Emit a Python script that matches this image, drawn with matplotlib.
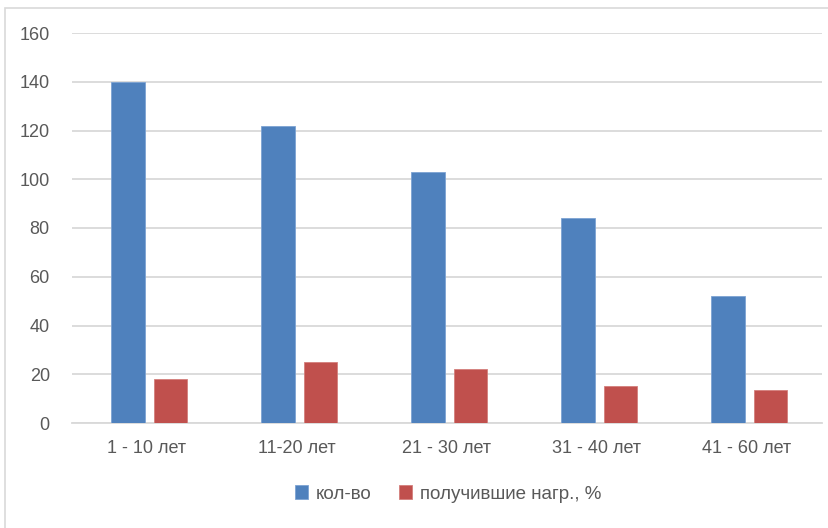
import matplotlib
matplotlib.use("Agg")
import matplotlib.pyplot as plt
import numpy as np
from matplotlib.patches import Rectangle

# age groups and the two series
categories = ["1 - 10 лет", "11-20 лет", "21 - 30 лет", "31 - 40 лет", "41 - 60 лет"]
count_values = [140, 122, 103, 84, 52]
loaded_pct = [18, 25, 22, 15, 13.5]
series_names = ["кол-во", "получившие нагр., %"]

plt.rcParams["font.family"] = ["Liberation Sans Narrow", "Liberation Sans", "DejaVu Sans"]

fig = plt.figure(figsize=(8.29, 5.28), dpi=100)
ax = fig.add_axes([72 / 829, 1 - 423 / 528, 750 / 829, 390 / 528])

x = np.arange(len(categories))
width = 0.225
ax.bar(x - 0.125, count_values, width, color="#4f81bd", edgecolor="#7da3d3",
       linewidth=0.6, label=series_names[0], zorder=3)
ax.bar(x + 0.157, loaded_pct, width, color="#c0504d", edgecolor="#d47f7c",
       linewidth=0.6, label=series_names[1], zorder=3)

ax.set_xlim(-0.5, len(categories) - 0.5)
ax.set_ylim(0, 160)
ax.set_yticks(range(0, 161, 20))
ax.set_xticks(x)
ax.set_xticklabels(categories)
ax.yaxis.grid(True, color="#d9d9d9", linewidth=1.3, zorder=0)
ax.tick_params(axis="both", length=0, labelsize=13, colors="#595959")
ax.tick_params(axis="y", pad=16)
ax.tick_params(axis="x", pad=12)
for side in ["top", "right", "left"]:
    ax.spines[side].set_visible(False)
ax.spines["bottom"].set_color("#d9d9d9")
ax.spines["bottom"].set_linewidth(1.3)

ax.legend(loc="center", bbox_to_anchor=(448 / 829, 1 - 494 / 528),
          bbox_transform=fig.transFigure, ncol=2, frameon=False,
          handlelength=0.7, handleheight=0.7, handletextpad=0.4,
          columnspacing=1.5, fontsize=13.5, labelcolor="#595959")

# chart area border (only its top and left edges fall inside the frame)
fig.patches.append(Rectangle((5 / 829, -0.1), 1.2, (1 - 8 / 528) + 0.1,
                             transform=fig.transFigure, fill=False,
                             edgecolor="#d9d9d9", linewidth=1.2))

fig.savefig("out.png", dpi=100)
